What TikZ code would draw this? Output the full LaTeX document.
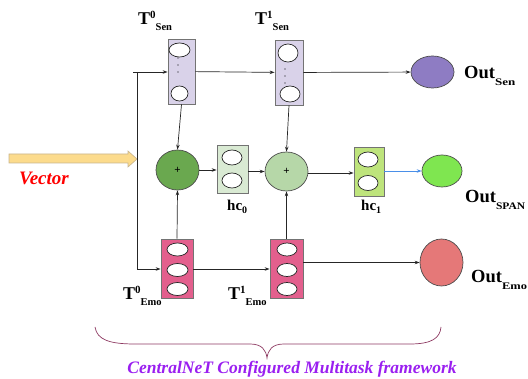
\documentclass[tikz,border=0pt]{standalone}
\usepackage{fontspec}
\setmainfont{Liberation Serif}
\usetikzlibrary{shapes.geometric,arrows.meta}
\definecolor{senbox}{HTML}{D9D2E9}
\definecolor{emobox}{HTML}{E35F8D}
\definecolor{sumdark}{HTML}{6AA84F}
\definecolor{sumlight}{HTML}{B6D7A8}
\definecolor{hcfirst}{HTML}{D9EAD3}
\definecolor{hcsecond}{HTML}{BEE47C}
\definecolor{outsenc}{HTML}{8E7CC3}
\definecolor{outspanc}{HTML}{7FE650}
\definecolor{outemoc}{HTML}{E57878}
\definecolor{vecfill}{HTML}{FCDB8C}
\definecolor{vecedge}{HTML}{C8B48C}
\definecolor{bracec}{HTML}{8E3A62}
\definecolor{captionc}{HTML}{9A1FF0}
\definecolor{spanline}{HTML}{4A8FE8}
\tikzset{
  layerbox/.style={draw=black!55, line width=0.8pt, minimum width=#1},
  unit/.style={ellipse, draw=black!85, fill=white, line width=0.7pt, inner sep=0pt},
  sumnode/.style={ellipse, draw=black!70, line width=0.7pt, inner sep=0pt,
    minimum width=43pt, minimum height=40pt, font=\fontsize{11}{11}\selectfont\bfseries},
  outnode/.style={ellipse, draw=black!70, line width=0.7pt, inner sep=0pt},
  link/.style={draw=black!85, line width=0.7pt, -{Stealth[length=5pt,width=3.5pt]}},
  plain/.style={draw=black!85, line width=0.7pt},
  lbl/.style={inner sep=0pt, anchor=base west},
}
% tensor label: big T, superscript index, task name set lower and after it
\newcommand{\tlabel}[2]{\fontsize{18}{18}\selectfont\textbf{T}\raisebox{6pt}{\fontsize{11}{11}\selectfont\textbf{#1}}\raisebox{-6pt}{\fontsize{10.5}{10.5}\selectfont\textbf{#2}}}
% output label: "Out" with a wide, lowered task name
\newcommand{\olabel}[2][1.3]{\fontsize{18.5}{18.5}\selectfont\textbf{Out}\raisebox{-7pt}{\scalebox{#1}[1]{\fontsize{10}{10}\selectfont\textbf{#2}}}}
\newcommand{\hlabel}[1]{\fontsize{15}{15}\selectfont\textbf{hc}\raisebox{-3pt}{\fontsize{10}{10}\selectfont\textbf{#1}}}
\begin{document}
\begin{tikzpicture}[x=1pt, y=-1pt]
\useasboundingbox (0,0) rectangle (528,379);

% layer boxes
\node[layerbox=27pt, minimum height=65pt, fill=senbox] (ts0) at (181.5,71.5) {};
\node[layerbox=28pt, minimum height=65pt, fill=senbox] (ts1) at (289,72.5) {};
\node[layerbox=32pt, minimum height=59pt, fill=emobox] (te0) at (177,268.5) {};
\node[layerbox=33pt, minimum height=59pt, fill=emobox] (te1) at (286.5,268.5) {};
\node[layerbox=31pt, minimum height=48pt, fill=hcfirst] (hc0) at (232.5,169) {};
\node[layerbox=30pt, minimum height=49pt, fill=hcsecond] (hc1) at (369,171.5) {};

% units inside the sentiment layers
\node[unit, minimum width=21pt, minimum height=14pt] (a1) at (179.5,50) {};
\node[unit, minimum width=17pt, minimum height=15pt] (a2) at (179.5,93.5) {};
\node[unit, minimum width=20pt, minimum height=18pt] (b1) at (288,53) {};
\node[unit, minimum width=20pt, minimum height=16pt] (b2) at (290,94) {};
\foreach \yy in {58,65,72} \fill (178,\yy) circle (0.6pt);
\foreach \yy in {69,76,83} \fill (285,\yy) circle (0.6pt);

% units inside the emotion layers
\foreach \yy [count=\i] in {249.5,270,289} {
  \node[unit, minimum width=21pt, minimum height=13pt] (c\i) at (177.5,\yy) {};
  \node[unit, minimum width=20pt, minimum height=13pt] (d\i) at (287,\yy) {};
}

% units inside the hidden combination layers
\node[unit, minimum width=20pt, minimum height=15pt] (h1) at (232,157.5) {};
\node[unit, minimum width=20pt, minimum height=15pt] (h2) at (232,180.5) {};
\node[unit, minimum width=20pt, minimum height=15pt] (k1) at (368,159.5) {};
\node[unit, minimum width=20pt, minimum height=15pt] (k2) at (368,183) {};

% summation nodes
\node[sumnode, fill=sumdark] (s0) at (177.5,170) {+};
\node[sumnode, fill=sumlight, minimum height=39pt] (s1) at (286.5,171.5) {+};

% outputs
\node[outnode, fill=outsenc, minimum width=43pt, minimum height=32pt] (osen) at (432.5,72) {};
\node[outnode, fill=outspanc, minimum width=40pt, minimum height=32pt] (ospan) at (442,171) {};
\node[outnode, fill=outemoc, minimum width=43pt, minimum height=47pt] (oemo) at (441.5,262.5) {};

% input vector arrow
\draw[vecedge, fill=vecfill, line width=0.6pt]
  (9,154) -- (128,154) -- (128,151) -- (137,159) -- (128,167) -- (128,163) -- (9,163) -- cycle;
\node[lbl, text=red, font=\fontsize{19}{19}\selectfont\bfseries\itshape] (vec) at (19,185) {Vector};

% input distribution
\coordinate (in0) at (133,72);
\coordinate (jt) at (137,72);
\coordinate (jb) at (137,269);
\draw[link] (in0) -- (in0 -| ts0.west);
\draw[plain] (jt) -- (jb);
\draw[link] (jb) -- (jb -| te0.west);

% connections
\draw[link] (ts0) -- (ts1);
\draw[link] (ts1) -- (osen);
\draw[link] (te0.east |- jb) -- (te1.west |- jb);
\draw[link] (te1.east |- oemo) -- (oemo);
\draw[link] (ts0.south) -- (s0.north);
\draw[link] (ts1.south) -- (s1.north);
\draw[link] (te0.north) -- (s0.south);
\draw[link] (te1.north) -- (s1.south);
\draw[link] (s0.east) -- (s0.east -| hc0.west);
\draw[link] (hc0.east |- s1.west) -- (s1.west);
\draw[link] (s1.east |- 0,173) -- (hc1.west |- 0,173);
\draw[link, draw=spanline] (hc1.east |- ospan) -- (ospan);

% labels
\node[lbl] (lts0) at (138,25) {\tlabel{0}{Sen}};
\node[lbl] (lts1) at (255,25) {\tlabel{1}{Sen}};
\node[lbl] (lte0) at (123,300) {\tlabel{0}{Emo}};
\node[lbl] (lte1) at (228,300) {\tlabel{1}{Emo}};
\node[lbl] (lhc0) at (227,211) {\hlabel{0}};
\node[lbl] (lhc1) at (361,211) {\hlabel{1}};
\node[lbl] (losen) at (464,79) {\olabel{Sen}};
\node[lbl] (lospan) at (465,203) {\olabel[1.15]{SPAN}};
\node[lbl] (loemo) at (471,283) {\olabel[1.25]{Emo}};

% grouping brace and caption
\draw[bracec, line width=0.7pt]
  (95,327) .. controls (97,340) and (110,344) .. (135,344) -- (250,344)
  .. controls (262,344) and (266,350) .. (267,358)
  .. controls (268,350) and (272,344) .. (284,344) -- (410,344)
  .. controls (432,344) and (440,338) .. (441,327);
\node[text=captionc, font=\fontsize{17.5}{17.5}\selectfont\bfseries\itshape, inner sep=0pt] (cap) at (292,369)
  {CentralNeT Configured Multitask framework};
\end{tikzpicture}
\end{document}
